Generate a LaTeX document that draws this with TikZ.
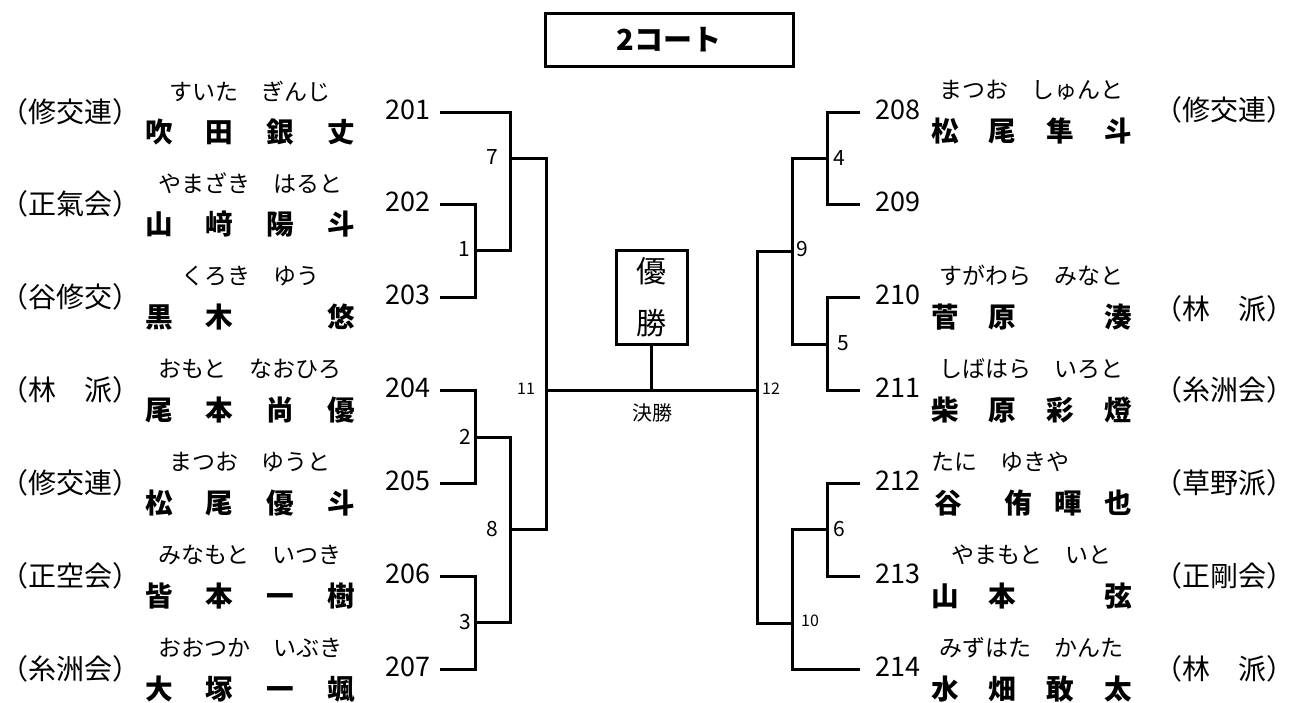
\documentclass[tikz,border=0pt]{standalone}
\usepackage{fontspec}
\newfontfamily\jp{Noto Sans CJK JP}
\newcommand{\kname}[5][30.35pt]{\makebox[#1]{#2}\makebox[#1]{#3}\makebox[#1]{#4}\makebox[#1]{#5}}
\begin{document}
\begin{tikzpicture} [
      x=0.5pt, y=-0.5pt,
      bline/.style={line width=1.5pt},
      aff/.style={font=\jp\fontsize{14}{14}\selectfont, inner sep=0pt},
      kana/.style={font=\jp\fontsize{11.5}{11.5}\selectfont, inner sep=0pt},
      pname/.style={font=\jp\bfseries\fontsize{13.8}{13.8}\selectfont, inner sep=0pt},
      num/.style={font=\jp\fontsize{13.5}{13.5}\selectfont, inner sep=0pt},
      match/.style={font=\jp\fontsize{10.5}{10.5}\selectfont, inner sep=0pt},
      smatch/.style={font=\jp\fontsize{8}{8}\selectfont, inner sep=0pt}
   ]
    \useasboundingbox (0,0) rectangle (1295,702);

    \node[draw, bline, minimum width=124pt, minimum height=26.5pt, inner sep=0pt,
      font=\jp\bfseries\fontsize{14.5}{14.5}\selectfont] (court) at (669,39.5) {2コート};
    \node[draw, bline, minimum width=35.5pt, minimum height=47pt, inner sep=0pt, align=center,
      font=\jp\fontsize{15}{26}\selectfont] (champ) at (651.5,297) {優\\勝};

    \coordinate (p201) at (440,112);
    \coordinate (p202) at (440,204);
    \coordinate (p203) at (440,297);
    \coordinate (p204) at (440,390);
    \coordinate (p205) at (440,483);
    \coordinate (p206) at (440,576);
    \coordinate (p207) at (440,669);
    \coordinate (m1) at (475,250);
    \coordinate (m2) at (475,437);
    \coordinate (m3) at (475,622);
    \coordinate (m7) at (510,158);
    \coordinate (m8) at (510,529);
    \coordinate (m11) at (546,390);

    \coordinate (q208) at (860,112);
    \coordinate (q209) at (860,204);
    \coordinate (q210) at (860,297);
    \coordinate (q211) at (860,390);
    \coordinate (q212) at (860,483);
    \coordinate (q213) at (860,576);
    \coordinate (q214) at (860,669);
    \coordinate (r4) at (827,158);
    \coordinate (r5) at (827,344);
    \coordinate (r6) at (827,529);
    \coordinate (r9) at (792,251);
    \coordinate (r10) at (792,623);
    \coordinate (r12) at (757,390);

    \draw[bline] (p202) -| (m1) |- (p203);
    \draw[bline] (p201) -| (m7) |- (m1);
    \draw[bline] (p204) -| (m2) |- (p205);
    \draw[bline] (p206) -| (m3) |- (p207);
    \draw[bline] (m2) -| (m8) |- (m3);
    \draw[bline] (m7) -| (m11) |- (m8);
    \draw[bline] (q208) -| (r4) |- (q209);
    \draw[bline] (q210) -| (r5) |- (q211);
    \draw[bline] (q212) -| (r6) |- (q213);
    \draw[bline] (r4) -| (r9) |- (r5);
    \draw[bline] (r6) -| (r10) |- (q214);
    \draw[bline] (r9) -| (r12) |- (r10);
    \draw[bline] (m11) -- (r12);
    \draw[bline] (champ.south) -- (champ.south |- m11);

    \node[match] (lb1) at (464,249) {1};
    \node[match] (lb7) at (492,157) {7};
    \node[match] (lb2) at (465,437) {2};
    \node[match] (lb8) at (492,529) {8};
    \node[match] (lb3) at (465,622) {3};
    \node[smatch] (lb11) at (526,389) {11};
    \node[match] (lb4) at (839,158) {4};
    \node[match] (lb9) at (802,249) {9};
    \node[match] (lb5) at (843,343) {5};
    \node[smatch] (lb12) at (771,389) {12};
    \node[match] (lb6) at (839,529) {6};
    \node[smatch] (lb10) at (810,621) {10};
    \node[font=\jp\fontsize{10}{10}\selectfont, inner sep=0pt] (final) at (652,413) {決勝};

    \node[num] (n201) at (408,110) {201};
    \node[num] (n202) at (408,202) {202};
    \node[num] (n203) at (408,295) {203};
    \node[num] (n204) at (408,388) {204};
    \node[num] (n205) at (408,481) {205};
    \node[num] (n206) at (408,574) {206};
    \node[num] (n207) at (408,667) {207};
    \node[num] (n208) at (898,110) {208};
    \node[num] (n209) at (898,202) {209};
    \node[num] (n210) at (898,295) {210};
    \node[num] (n211) at (898,388) {211};
    \node[num] (n212) at (898,481) {212};
    \node[num] (n213) at (898,574) {213};
    \node[num] (n214) at (898,667) {214};

    \node[aff, anchor=west] (a201) at (0,112) {（修交連）};
    \node[aff, anchor=west] (a202) at (0,204) {（正氣会）};
    \node[aff, anchor=west] (a203) at (0,297) {（谷修交）};
    \node[aff, anchor=west] (a204) at (0,390) {（林　派）};
    \node[aff, anchor=west] (a205) at (0,483) {（修交連）};
    \node[aff, anchor=west] (a206) at (0,576) {（正空会）};
    \node[aff, anchor=west] (a207) at (0,669) {（糸洲会）};
    \node[aff, anchor=east] (a208) at (1295,110) {（修交連）};
    \node[aff, anchor=east] (a210) at (1295,309) {（林　派）};
    \node[aff, anchor=east] (a211) at (1295,390) {（糸洲会）};
    \node[aff, anchor=east] (a212) at (1295,483) {（草野派）};
    \node[aff, anchor=east] (a213) at (1295,576) {（正剛会）};
    \node[aff, anchor=east] (a214) at (1295,669) {（林　派）};

    \node[pname] (nm201) at (250,132) {\kname{吹}{田}{銀}{丈}};
    \node[pname] (nm202) at (250,224) {\kname{山}{﨑}{陽}{斗}};
    \node[pname] (nm203) at (250,317) {\kname{黒}{木}{}{悠}};
    \node[pname] (nm204) at (250,410) {\kname{尾}{本}{尚}{優}};
    \node[pname] (nm205) at (250,503) {\kname{松}{尾}{優}{斗}};
    \node[pname] (nm206) at (250,596) {\kname{皆}{本}{一}{樹}};
    \node[pname] (nm207) at (250,689) {\kname{大}{塚}{一}{颯}};
    \node[pname] (nm208) at (1031.5,131) {\kname[28.85pt]{松}{尾}{隼}{斗}};
    \node[pname] (nm210) at (1031.5,317) {\kname[28.85pt]{菅}{原}{}{湊}};
    \node[pname] (nm211) at (1031.5,410) {\kname[28.85pt]{柴}{原}{彩}{燈}};
    \node[pname, anchor=west] (nm212) at (919,503) {\makebox[29pt]{谷}\hspace{8pt}\makebox[25pt]{侑}\makebox[25pt]{暉}\makebox[25pt]{也}};
    \node[pname] (nm213) at (1031.5,596) {\kname[28.85pt]{山}{本}{}{弦}};
    \node[pname] (nm214) at (1031.5,689) {\kname[28.85pt]{水}{畑}{敢}{太}};

    \node[kana, above of=nm201, node distance=20.5pt] (k201) {すいた　ぎんじ};
    \node[kana, above of=nm202, node distance=20.5pt] (k202) {やまざき　はると};
    \node[kana, above of=nm203, node distance=20.5pt] (k203) {くろき　ゆう};
    \node[kana, above of=nm204, node distance=20.5pt] (k204) {おもと　なおひろ};
    \node[kana, above of=nm205, node distance=20.5pt] (k205) {まつお　ゆうと};
    \node[kana, above of=nm206, node distance=20.5pt] (k206) {みなもと　いつき};
    \node[kana, above of=nm207, node distance=20.5pt] (k207) {おおつか　いぶき};
    \node[kana, above of=nm208, node distance=20.5pt] (k208) {まつお　しゅんと};
    \node[kana, above of=nm210, node distance=20.5pt] (k210) {すがわら　みなと};
    \node[kana, above of=nm211, node distance=20.5pt] (k211) {しばはら　いろと};
    \node[kana, anchor=west] (k212) at (931,462) {たに　ゆきや};
    \node[kana, above of=nm213, node distance=20.5pt] (k213) {やまもと　いと};
    \node[kana, above of=nm214, node distance=20.5pt] (k214) {みずはた　かんた};

  \end{tikzpicture}
\end{document}
